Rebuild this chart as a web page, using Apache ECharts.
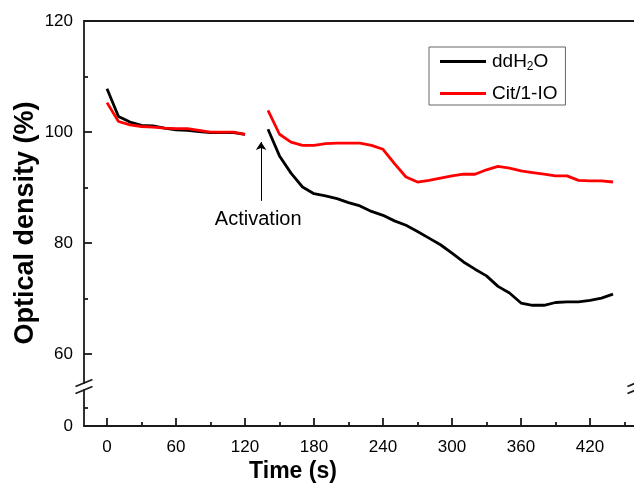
<!DOCTYPE html>
<html><head><meta charset="utf-8">
<script src="https://cdn.jsdelivr.net/npm/echarts@6/dist/echarts.min.js"></script>
<style>html,body{margin:0;padding:0;background:#fff}#c{width:634px;height:486px}</style>
</head><body><div id="c"></div>
<script>
// ---- data ----
const times = [0,10,20,30,40,50,60,70,80,90,100,110,120,130,140,150,160,170,180,190,200,210,220,230,240,250,260,270,280,290,300,310,320,330,340,350,360,370,380,390,400,410,420,430,440];
const ddH2O = [107.8,102.8,101.8,101.2,101.1,100.7,100.4,100.3,100.1,99.9,99.9,99.9,99.6,null,
  100.5,95.7,92.6,90.1,88.9,88.5,88.0,87.3,86.7,85.7,85.0,84.0,83.2,82.1,80.9,79.7,78.2,76.6,75.3,74.1,72.2,71.0,69.2,68.8,68.8,69.3,69.4,69.4,69.7,70.1,70.8];
const citIO = [105.3,101.9,101.3,101.0,100.9,100.7,100.6,100.6,100.3,100.0,100.0,100.0,99.6,null,
  103.9,99.6,98.2,97.6,97.6,97.9,98.0,98.0,98.0,97.6,96.9,94.3,91.9,91.0,91.3,91.7,92.1,92.4,92.4,93.2,93.8,93.5,93.0,92.7,92.4,92.1,92.1,91.3,91.2,91.2,91.0];
const seriesNames = ['ddH2O','Cit/1-IO'];
const xMajorTicks = [0,60,120,180,240,300,360,420];
const xMinorTicks = [30,90,150,210,270,330,390,450];
const yMajorTicks = [60,80,100,120];
const yMinorTicks = [70,90,110];
const lowerLabels = [0];
const lowerMinor = [10];
const activation = {time:134, from:87.6, to:98.2, textTime:131.5, textValue:84.3, text:'Activation'};

const FONT = "'Liberation Sans', Arial, sans-serif";
const AX = '#1a1a1a';
const xMin = -20, xMax = 460;
const upperMin = 54.8, upperMax = 120;
const lowerMin = 0, lowerMax = 20;

const chart = echarts.init(document.getElementById('c'), null, {renderer:'canvas'});
const pts = arr => times.map((t,i)=>[t, arr[i]]);

const axLine = {show:true, onZero:false, lineStyle:{color:AX, width:1.8}};
const noLine = {show:false, onZero:false};
const option = {
  animation:false,
  backgroundColor:'#fff',
  textStyle:{fontFamily:FONT},
  grid:[
    {left:84, width:552, top:21, height:362, containLabel:false, outerBoundsMode:'none'},
    {left:84, width:552, top:390, height:36, containLabel:false, outerBoundsMode:'none'}
  ],
  xAxis:[
    {type:'value', gridIndex:0, position:'top', min:xMin, max:xMax, axisLine:axLine, axisTick:{show:false}, axisLabel:{show:false}, splitLine:{show:false}},
    {type:'value', gridIndex:1, position:'bottom', min:xMin, max:xMax, axisLine:axLine,
      axisTick:{show:true, inside:true, length:8, customValues:xMajorTicks, lineStyle:{color:AX, width:1.8}},
      axisLabel:{show:true, customValues:xMajorTicks, fontSize:17, color:'#000', margin:13, fontFamily:FONT},
      splitLine:{show:false},
      name:'Time (s)', nameLocation:'middle', nameGap:34,
      nameTextStyle:{fontSize:23, fontWeight:'bold', color:'#000', fontFamily:FONT, padding:[0,134,0,0]}},
    {type:'value', gridIndex:1, position:'bottom', min:xMin, max:xMax, axisLine:noLine,
      axisTick:{show:true, inside:true, length:4, customValues:xMinorTicks, lineStyle:{color:AX, width:1.8}},
      axisLabel:{show:false}, splitLine:{show:false}}
  ],
  yAxis:[
    {type:'value', gridIndex:0, position:'left', min:upperMin, max:upperMax, axisLine:axLine,
      axisTick:{show:true, inside:true, length:8, customValues:yMajorTicks, lineStyle:{color:AX, width:1.8}},
      axisLabel:{show:true, customValues:yMajorTicks, fontSize:17, color:'#000', margin:11, fontFamily:FONT},
      splitLine:{show:false},
      name:'Optical density (%)', nameLocation:'middle', nameGap:45, nameMoveOverlap:false,
      nameTextStyle:{fontSize:27, fontWeight:'bold', color:'#000', fontFamily:FONT, padding:[0,42,0,0]}},
    {type:'value', gridIndex:0, position:'left', min:upperMin, max:upperMax, axisLine:noLine,
      axisTick:{show:true, inside:true, length:4, customValues:yMinorTicks, lineStyle:{color:AX, width:1.8}},
      axisLabel:{show:false}, splitLine:{show:false}},
    {type:'value', gridIndex:0, position:'right', min:upperMin, max:upperMax, axisLine:axLine, axisTick:{show:false}, axisLabel:{show:false}, splitLine:{show:false}},
    {type:'value', gridIndex:1, position:'left', min:lowerMin, max:lowerMax, axisLine:axLine,
      axisTick:{show:true, inside:true, length:4, customValues:lowerMinor, lineStyle:{color:AX, width:1.8}},
      axisLabel:{show:true, customValues:lowerLabels, fontSize:17, color:'#000', margin:11, fontFamily:FONT},
      splitLine:{show:false}},
    {type:'value', gridIndex:1, position:'right', min:lowerMin, max:lowerMax, axisLine:axLine, axisTick:{show:false}, axisLabel:{show:false}, splitLine:{show:false}}
  ],
  legend:{
    left:429, top:47, orient:'vertical', selectedMode:false,
    borderColor:'#666', borderWidth:1, padding:[5,8,2,11], itemGap:11, itemWidth:46, itemHeight:3,
    icon:'rect',
    data:seriesNames,
    formatter: n => n === 'ddH2O' ? '{n|ddH}{s|2}{n|O}' : '{n|' + n + '}',
    textStyle:{color:'#000', fontFamily:FONT, padding:[0,0,0,1],
      rich:{n:{fontSize:19, lineHeight:23, color:'#000', fontFamily:FONT},
            s:{fontSize:12, lineHeight:23, color:'#000', fontFamily:FONT, verticalAlign:'bottom'}}}
  },
  series:[
    {name:seriesNames[0], type:'line', xAxisIndex:0, yAxisIndex:0, data:pts(ddH2O), showSymbol:false, symbol:'none',
      connectNulls:false, lineStyle:{color:'#000', width:2.8}, itemStyle:{color:'#000'}, silent:true,
      markLine:{silent:true, symbol:['none','arrow'], symbolSize:8, label:{show:false},
        lineStyle:{color:'#000', width:1, type:'solid'},
        data:[[{coord:[activation.time, activation.from]},{coord:[activation.time, activation.to]}]]},
      markPoint:{silent:true, symbol:'circle', symbolSize:0,
        label:{show:true, position:'inside', formatter:activation.text, fontSize:20, color:'#000', fontFamily:FONT},
        data:[{coord:[activation.textTime, activation.textValue]}]}},
    {name:seriesNames[1], type:'line', xAxisIndex:0, yAxisIndex:0, data:pts(citIO), showSymbol:false, symbol:'none',
      connectNulls:false, lineStyle:{color:'#ff0000', width:2.8}, itemStyle:{color:'#ff0000'}, silent:true}
  ]
};
chart.setOption(option);

// axis-break slashes, placed from the axes' own pixel positions
const ends = [
  chart.convertToPixel({gridIndex:0}, [xMin, upperMin]),
  chart.convertToPixel({gridIndex:1}, [xMin, lowerMax]),
  chart.convertToPixel({gridIndex:0}, [xMax, upperMin]),
  chart.convertToPixel({gridIndex:1}, [xMax, lowerMax])
];
const slashes = ends.map(p => ({type:'line', silent:true, z:100,
  shape:{x1:p[0]-8.5, y1:p[1]+3.5, x2:p[0]+8.5, y2:p[1]-3.5},
  style:{stroke:AX, lineWidth:1.8}}));
chart.setOption({graphic:slashes});
</script></body></html>
